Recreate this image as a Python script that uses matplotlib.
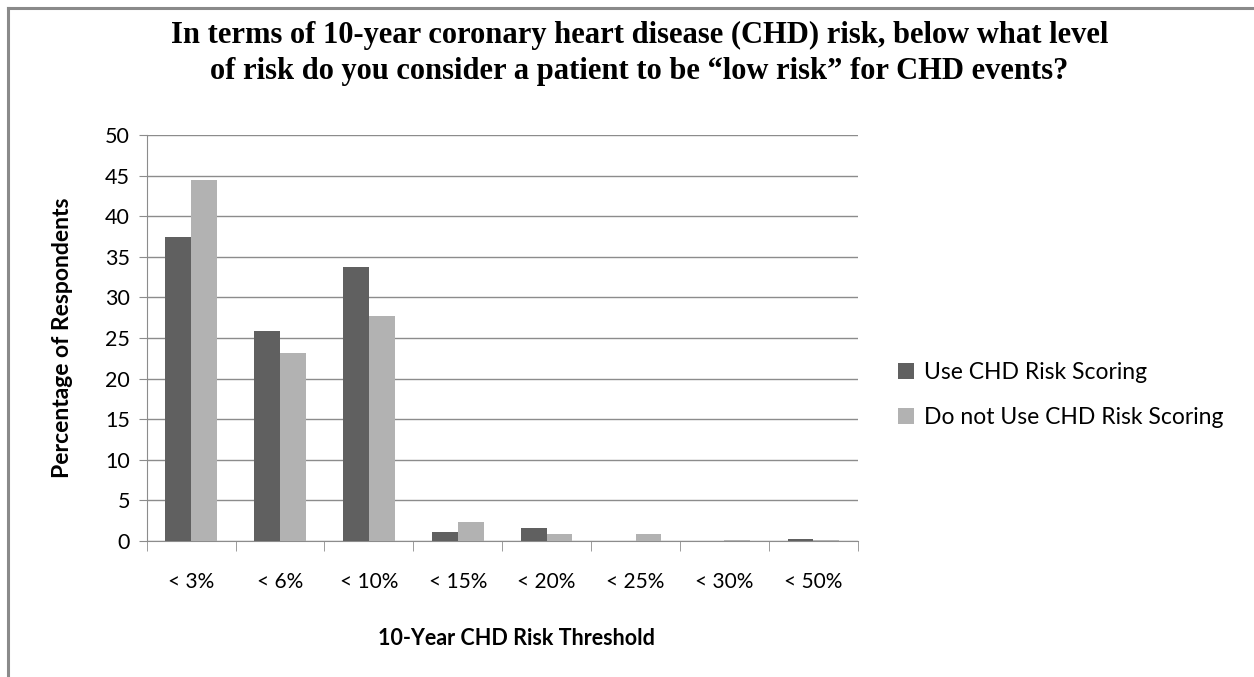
import numpy as np
import matplotlib
matplotlib.use("Agg")
import matplotlib.pyplot as plt
from matplotlib.lines import Line2D
from matplotlib.patches import Patch

# ------------------------------------------------------------------ #
#  Data
# ------------------------------------------------------------------ #

CATEGORIES = ["< 3%", "< 6%", "< 10%", "< 15%", "< 20%", "< 25%", "< 30%", "< 50%"]
USE_SCORING = [37.4, 25.8, 33.7, 1.1, 1.6, 0.0, 0.0, 0.2]
NO_SCORING = [44.5, 23.1, 27.7, 2.4, 0.8, 0.8, 0.15, 0.15]
SERIES_NAMES = ["Use CHD Risk Scoring", "Do not Use CHD Risk Scoring"]
Y_TICKS = list(range(0, 51, 5))

TITLE = ("In terms of 10-year coronary heart disease (CHD) risk, below what level\n"
         "of risk do you consider a patient to be \u201clow risk\u201d for CHD events?")
X_LABEL = "10-Year CHD Risk Threshold"
Y_LABEL = "Percentage of Respondents"

DARK = "#606060"
LIGHT = "#b2b2b2"
GRID = "#8c8c8c"

# ------------------------------------------------------------------ #
#  Plot
# ------------------------------------------------------------------ #

fig = plt.figure(figsize=(12.54, 6.77), dpi=100)
ax = fig.add_axes([0.117, 0.2009, 0.567, 0.5997])

x = np.arange(len(CATEGORIES))
w = 0.29
ax.bar(x - w / 2, USE_SCORING, width=w, color=DARK, zorder=3)
ax.bar(x + w / 2, NO_SCORING, width=w, color=LIGHT, zorder=3)

ax.set_xlim(-0.5, len(CATEGORIES) - 0.5)
ax.set_ylim(0, 50)
ax.set_yticks(Y_TICKS)
ax.yaxis.grid(True, color=GRID, linewidth=1.0, zorder=0)
ax.set_axisbelow(True)

# category labels centred, tick marks on the boundaries
ax.set_xticks(x)
ax.set_xticklabels(CATEGORIES, fontsize=15, family="Lato")
ax.tick_params(axis="x", which="major", length=0, pad=22)
ax.set_xticks(np.arange(len(CATEGORIES) + 1) - 0.5, minor=True)
ax.tick_params(axis="x", which="minor", length=7, color=GRID, direction="out")
ax.tick_params(axis="y", length=6, color=GRID, labelsize=15.5, pad=6)
for lab in ax.get_yticklabels():
    lab.set_family("Lato")

for side in ["top", "right"]:
    ax.spines[side].set_visible(False)
for side in ["left", "bottom"]:
    ax.spines[side].set_color(GRID)

ax.set_xlabel(X_LABEL, fontsize=15.5, fontweight="bold", family="Lato")
ax.xaxis.set_label_coords(0.52, -0.215)
ax.set_ylabel(Y_LABEL, fontsize=16.5, fontweight="bold", family="Lato")
ax.yaxis.set_label_coords(-0.103, 0.5)

fig.text(0.51, 0.921, TITLE, ha="center", va="center", fontsize=22,
         fontweight="bold", family="Liberation Serif", linespacing=1.35)

handles = [Patch(facecolor=DARK), Patch(facecolor=LIGHT)]
fig.legend(handles, SERIES_NAMES, loc="center left", bbox_to_anchor=(0.7, 0.416),
           frameon=False, prop={"family": "Lato", "size": 16.5},
           handlelength=0.7, handleheight=0.7, handletextpad=0.4, labelspacing=1.05)

# outer chart frame (left and top edges visible)
fig.add_artist(Line2D([0.0065, 0.0065], [0.0, 0.988], transform=fig.transFigure,
                      color="#8a8a8a", linewidth=2.2))
fig.add_artist(Line2D([0.0065, 1.0], [0.988, 0.988], transform=fig.transFigure,
                      color="#8a8a8a", linewidth=2.2))

fig.savefig("out.png", dpi=100)
